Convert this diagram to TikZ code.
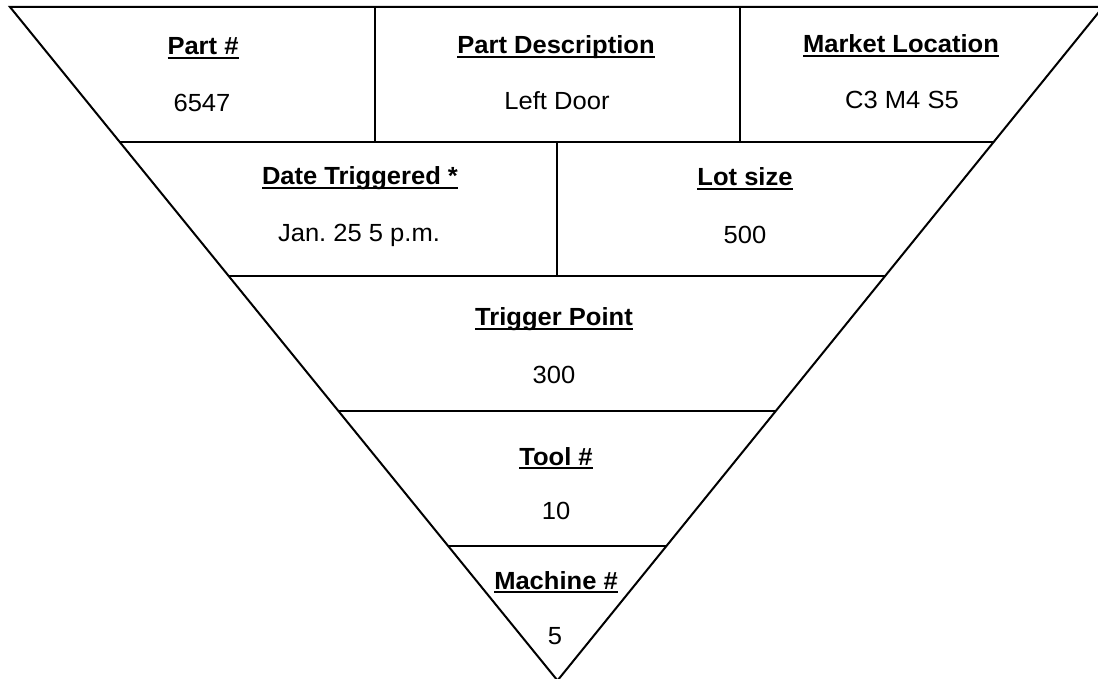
\documentclass[tikz,border=0pt]{standalone}
\usepackage{fontspec}
\setmainfont{Liberation Sans}[FakeStretch=1.03]
\usetikzlibrary{calc}
% bold heading with a flat underline that runs through the descenders
\newsavebox\hdrbox
\newcommand{\hdr}[1]{\sbox\hdrbox{\bfseries #1}\rlap{\vrule height -0.85pt depth 2.1pt width \wd\hdrbox}\usebox\hdrbox}

\begin{document}
\frenchspacing
\begin{tikzpicture}[x=0.5pt,y=-0.5pt,line width=1pt,
  lbl/.style={anchor=base,inner sep=0pt,font=\fontsize{12.4}{14}\selectfont}]
\useasboundingbox (0,0) rectangle (1098,679);
\begin{scope}
  \clip (0,0) rectangle (1098,679);
  % outer inverted triangle
  \coordinate (tl) at (10,7);
  \coordinate (tr) at (1103,7);
  \coordinate (ap) at (557.5,680.5);
  \draw[line join=miter] (tl) -- (tr) -- (ap) -- cycle;
  % horizontal bands
  \foreach \t in {0.2,0.4,0.6,0.8}
    \draw ($(tl)!\t!(ap)$) -- ($(tr)!\t!(ap)$);
  % column dividers
  \draw (375,7) -- (375,141.5);
  \draw (740,7) -- (740,141.5);
  \draw (557,141.5) -- (557,276);
\end{scope}

% first band
\node[lbl] (partH) at (203,55) {\hdr{Part \#}};
\node[lbl] (partV) at (202,112) {6547};
\node[lbl] (descH) at (556,54) {\hdr{Part Description}};
\node[lbl] (descV) at (557,110) {Left Door};
\node[lbl] (locH) at (901,53) {\hdr{Market Location}};
\node[lbl] (locV) at (902,109) {C3 M4 S5};
% second band
\node[lbl] (dateH) at (360,185) {\hdr{Date Triggered *}};
\node[lbl] (dateV) at (359,242) {Jan. 25 5 p.m.};
\node[lbl] (lotH) at (745,186) {\hdr{Lot size}};
\node[lbl] (lotV) at (745,244) {500};
% third band
\node[lbl] (trigH) at (554,326) {\hdr{Trigger Point}};
\node[lbl] (trigV) at (554,383) {300};
% fourth band
\node[lbl] (toolH) at (556,465) {\hdr{Tool \#}};
\node[lbl] (toolV) at (556,519) {10};
% tip
\node[lbl] (machH) at (556,589) {\hdr{Machine \#}};
\node[lbl] (machV) at (555,644) {5};
\end{tikzpicture}
\end{document}
